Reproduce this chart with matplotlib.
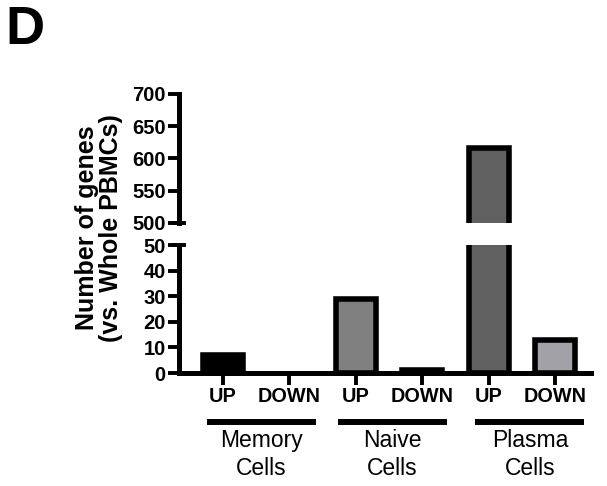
import matplotlib
matplotlib.use("Agg")
import matplotlib.pyplot as plt
import matplotlib.transforms as mtransforms

plt.rcParams['font.family'] = ['Liberation Sans', 'DejaVu Sans']

# ---- data ----
bar_labels = ["UP", "DOWN", "UP", "DOWN", "UP", "DOWN"]
values = [7, 0, 29, 1, 617, 13]
bar_colors = ["#000000", "#000000", "#808080", "#3a3a3a", "#606060", "#a2a1a7"]
groups = ["Memory\nCells", "Naive\nCells", "Plasma\nCells"]
group_members = [(0, 1), (2, 3), (4, 5)]
upper_ticks = [500, 550, 600, 650, 700]
lower_ticks = [0, 10, 20, 30, 40, 50]
ylabel = "Number of genes\n(vs. Whole PBMCs)"
panel = "D"

W, H = 607, 486
fig = plt.figure(figsize=(W / 100, H / 100), dpi=100)

def fr(x0, y0, x1, y1):
    # pixel box (top-left origin) -> figure fraction
    return [x0 / W, (H - y1) / H, (x1 - x0) / W, (y1 - y0) / H]

ax_up = fig.add_axes(fr(179, 94, 591, 223))
ax_lo = fig.add_axes(fr(179, 245, 591, 373))

xs = list(range(len(values)))
lws = [0 if v == 0 else 4.0 for v in values]
for ax in (ax_up, ax_lo):
    ax.bar(xs, values, width=0.6, color=bar_colors, edgecolor="black",
           linewidth=lws, zorder=1)
    ax.set_xlim(-0.66, 5.54)
    for s in ("top", "right"):
        ax.spines[s].set_visible(False)
    ax.spines["left"].set_linewidth(3.6)
    ax.spines["bottom"].set_linewidth(3.6)
    ax.tick_params(axis="y", length=8, width=2.8, pad=1.5, labelsize=14.5)

ax_up.set_ylim(500, 700)
ax_up.set_yticks(upper_ticks)
ax_up.set_yticklabels([str(t) for t in upper_ticks], fontweight="bold", fontsize=14.5)
ax_up.spines["bottom"].set_visible(False)
ax_up.set_xticks([])

ax_lo.set_ylim(0, 50)
ax_lo.set_yticks(lower_ticks)
ax_lo.set_yticklabels([str(t) for t in lower_ticks], fontweight="bold", fontsize=14.5)
ax_lo.set_xticks(xs)
ax_lo.set_xticklabels(bar_labels, fontweight="bold", fontsize=14.3)
ax_lo.tick_params(axis="x", length=8.5, width=2.8, pad=1.5)

# break caps on the y axis ends
ax_up.plot([0], [0], marker="_", markersize=10, mew=2.8, color="black",
           transform=ax_up.transAxes, clip_on=False, zorder=5)
ax_lo.plot([0], [1], marker="_", markersize=10, mew=2.8, color="black",
           transform=ax_lo.transAxes, clip_on=False, zorder=5)

# group lines and labels
trans = mtransforms.blended_transform_factory(ax_lo.transData, ax_lo.transAxes)
offsets = [0.08, 0.05, 0.12]
for (a, b), name, off in zip(group_members, groups, offsets):
    c = (a + b) / 2 + off
    ax_lo.plot([c - 0.82, c + 0.82], [-0.383, -0.383], color="black", lw=4.3,
               transform=trans, clip_on=False, solid_capstyle="butt")
    ax_lo.text(c, -0.44, name, transform=trans, ha="center", va="top",
               fontsize=16.5, linespacing=1.28)

fig.text(99 / W, (H - 228) / H, ylabel, rotation=90, ha="center", va="center",
         fontsize=18, fontweight="bold", linespacing=1.05, multialignment="center")

fig.text(5 / W, 1 - 5 / H, panel, ha="left", va="top", fontsize=39, fontweight="bold")

fig.savefig("out.png", dpi=100)
